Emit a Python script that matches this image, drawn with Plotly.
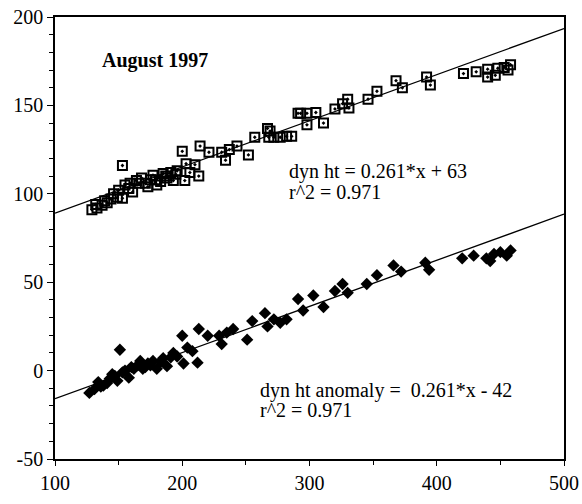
import plotly.graph_objects as go

# Upper series: dynamic height (open squares)
dyn_x = [129, 133, 137, 141, 144, 149, 150, 153, 153, 155, 159, 161, 164, 168, 173, 177, 180, 183,
         185, 188, 191, 193, 196, 200, 202, 203, 206, 210, 213, 214, 221, 231, 234, 237, 243, 252,
         257, 267, 268, 269, 272, 277, 282, 286, 291, 293, 298, 298, 305, 311, 320, 326, 330, 331,
         346, 353, 368, 373, 392, 395, 421, 431, 440, 440, 446, 448, 453, 456, 458,
         132, 146, 158, 166, 171, 175, 179, 187, 195, 139]
dyn_y = [91, 92, 93.5, 95, 97, 98, 102, 116, 97.5, 105, 106, 101, 107.5, 109, 104, 110.5, 105, 107,
         111.5, 109, 112, 107.5, 113, 124, 107.5, 117, 112, 116.5, 110, 127, 123.5, 123.5, 119, 125,
         127, 122, 132, 137, 132, 135.5, 132, 132, 132.5, 132.5, 145.5, 145.5, 145.5, 139, 146, 140,
         148, 151, 153.5, 148.5, 153.5, 158, 164, 160, 166, 161.5, 168, 169, 170.5, 166, 167, 171,
         171.5, 170, 173,
         94, 100, 103, 106, 106, 108, 108, 110, 111, 96]

# Lower series: dynamic height anomaly (filled diamonds)
anom_x = [127, 131, 134, 138, 143, 147, 149, 151, 155, 158, 162, 167, 169, 173, 177, 180, 185, 188,
          191, 193, 200, 201, 204, 208, 212, 213, 220, 229, 231, 235, 240, 251, 255, 265, 267, 272,
          277, 282, 291, 295, 303, 311, 320, 326, 330, 345, 353, 366, 372, 391, 394, 420, 429, 439,
          445, 450, 458, 136, 141, 145, 153, 160, 165, 171, 175, 183, 196, 455, 442]
anom_y = [-12.6, -10.5, -6.5, -8.5, -4.6, -3, -5.8, 11.8, 0, -4, 1, 5.5, 1, 4, 5.5, 1, 7, 2.5,
          7.5, 10, 19.7, 4, 13, 11, 4.5, 23.5, 19.7, 19.7, 15, 21.5, 23.5, 17.5, 28, 32.5, 25, 29,
          27, 29, 40.5, 34, 42.5, 36, 45, 49, 44, 49, 54, 59.5, 56, 61, 57, 63.5, 65, 63.5,
          66, 67, 68, -9, -7, -2, -1, 2, 3, 2, 3, 5, 8, 65, 62]

# Regression lines
fit_slope = [0.261, 0.261]
fit_intercept = [63, -42]
fit_x = [100, 500]

x_ticks = [100, 200, 300, 400, 500]
x_ticklabels = ["100", "200", "300", "400", "500"]
y_ticks = [-50, 0, 50, 100, 150, 200]
y_ticklabels = ["-50", "0", "50", "100", "150", "200"]

serif = "Liberation Serif, Times New Roman, serif"

fig = go.Figure()
for s, b in zip(fit_slope, fit_intercept):
    fig.add_trace(go.Scatter(x=fit_x, y=[s * xv + b for xv in fit_x], mode="lines",
                             line=dict(color="black", width=1.3), showlegend=False,
                             hoverinfo="skip"))

fig.add_trace(go.Scatter(x=dyn_x, y=dyn_y, mode="markers", showlegend=False,
                         marker=dict(symbol="square-open-dot", size=9, color="black",
                                     line=dict(width=2, color="black"))))
fig.add_trace(go.Scatter(x=anom_x, y=anom_y, mode="markers", showlegend=False,
                         marker=dict(symbol="diamond", size=9.5, color="black",
                                     line=dict(width=0))))

ann = dict(showarrow=False, xanchor="left", yanchor="middle",
           font=dict(family=serif, size=20, color="black"))
fig.add_annotation(x=135, y=175.6, text="<b>August 1997</b>",
                   showarrow=False, xanchor="left", yanchor="middle",
                   font=dict(family=serif, size=20, color="black"))
fig.add_annotation(x=282.7, y=112.6, text="dyn ht = 0.261*x + 63", **ann)
fig.add_annotation(x=282.7, y=100.8, text="r^2 = 0.971", **ann)
fig.add_annotation(x=259.8, y=-11.2, text="dyn ht anomaly =  0.261*x - 42", **ann)
fig.add_annotation(x=259.8, y=-22.2, text="r^2 = 0.971", **ann)

axis_common = dict(showgrid=False, zeroline=False, showline=True, linecolor="black",
                   linewidth=1.5, mirror=True, ticks="outside", tickwidth=1.2,
                   tickcolor="black", automargin=False, ticklabeloverflow="allow",
                   tickfont=dict(family=serif, size=20, color="black"))

fig.update_xaxes(range=[100, 500], tickvals=x_ticks, ticktext=x_ticklabels, ticklen=5,
                 minor=dict(dtick=50, ticks="outside", ticklen=4, tickcolor="black"),
                 **axis_common)
fig.update_yaxes(range=[-50, 200], tickvals=y_ticks, ticktext=y_ticklabels, ticklen=6,
                 minor=dict(dtick=10, ticks="outside", ticklen=4, tickcolor="black"),
                 **axis_common)

fig.update_layout(width=582, height=504, margin=dict(l=55, r=18, t=17, b=45),
                  plot_bgcolor="white", paper_bgcolor="white")

# remove the default page margin so the figure fills the window exactly
fig.write_html("out.html", config={"displayModeBar": False},
               post_script="document.body.style.margin='0';")
